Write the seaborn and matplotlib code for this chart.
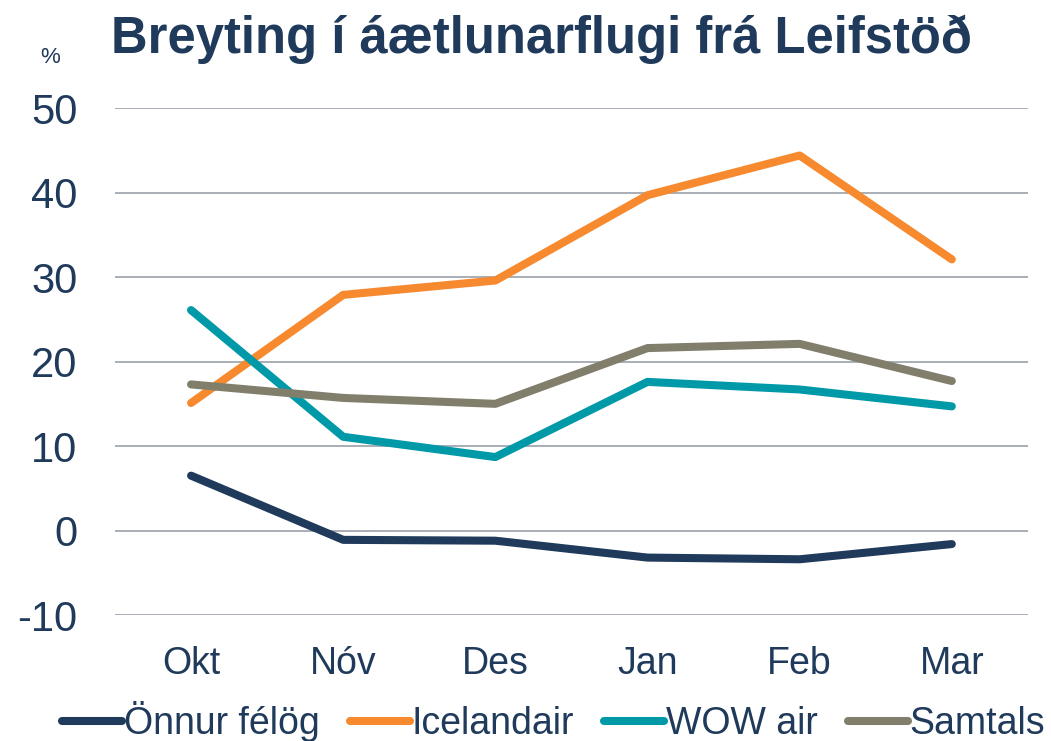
import pandas as pd
import seaborn as sns
import matplotlib.pyplot as plt

# Data
months = ["Okt", "Nóv", "Des", "Jan", "Feb", "Mar"]
onnur = [6.5, -1.1, -1.2, -3.2, -3.4, -1.6]
icelandair = [15.1, 27.9, 29.6, 39.7, 44.4, 32.1]
wow = [26.1, 11.1, 8.7, 17.6, 16.7, 14.7]
samtals = [17.3, 15.7, 15.0, 21.6, 22.1, 17.7]
yticks = [-10, 0, 10, 20, 30, 40, 50]

series = ["Önnur félög", "Icelandair", "WOW air", "Samtals"]
colors = ["#1f3a5a", "#f7892e", "#0099a8", "#817e6c"]

rows = []
for name, vals in zip(series, [onnur, icelandair, wow, samtals]):
    for i, (m, v) in enumerate(zip(months, vals)):
        rows.append({"idx": i, "month": m, "value": v, "series": name})
df = pd.DataFrame(rows)

sns.set_style("white")
plt.rcParams["font.family"] = ["Liberation Sans", "DejaVu Sans"]
plt.rcParams["axes.unicode_minus"] = False

fig = plt.figure(figsize=(10.51, 7.41), dpi=100)
ax = fig.add_axes([0.1094, 0.170, 0.8686, 0.684])

sns.lineplot(data=df, x="idx", y="value", hue="series", hue_order=series,
             palette=colors, linewidth=5.8, ax=ax, legend=True,
             solid_capstyle="round", solid_joinstyle="round")

ax.set_xlim(-0.5, 5.5)
ax.set_ylim(-10, 50)
ax.set_yticks(yticks)
ax.set_yticklabels([str(t) for t in yticks])
ax.set_xticks(range(len(months)))
ax.set_xticklabels(months)
ax.set_xlabel("")
ax.set_ylabel("")
for s in ax.spines.values():
    s.set_visible(False)
ax.grid(axis="y", color="#a3a7b0", linewidth=1.3)
ax.set_axisbelow(True)
ax.tick_params(axis="y", labelsize=30, colors="#1f3a5a", length=0, pad=27)
ax.tick_params(axis="x", labelsize=27, colors="#1f3a5a", length=0, pad=22)

fig.text(0.106, 0.929, "Breyting í áætlunarflugi frá Leifstöð", fontsize=36.5,
         fontweight="bold", color="#1f3a5a", va="baseline", ha="left")
fig.text(0.048, 0.922, "%", fontsize=16, color="#1f3a5a", va="center", ha="center")

handles, labels = ax.get_legend_handles_labels()
leg = fig.legend(handles, labels, loc="center", bbox_to_anchor=(0.527, 0.026),
                 ncol=4, frameon=False, fontsize=27, handlelength=1.6,
                 handletextpad=0.05, columnspacing=0.8, labelcolor="#1f3a5a",
                 borderpad=0, borderaxespad=0)
ax.get_legend().remove()
for line in leg.get_lines():
    line.set_linewidth(5.8)
    line.set_solid_capstyle("round")

fig.savefig("out.png", dpi=100)
